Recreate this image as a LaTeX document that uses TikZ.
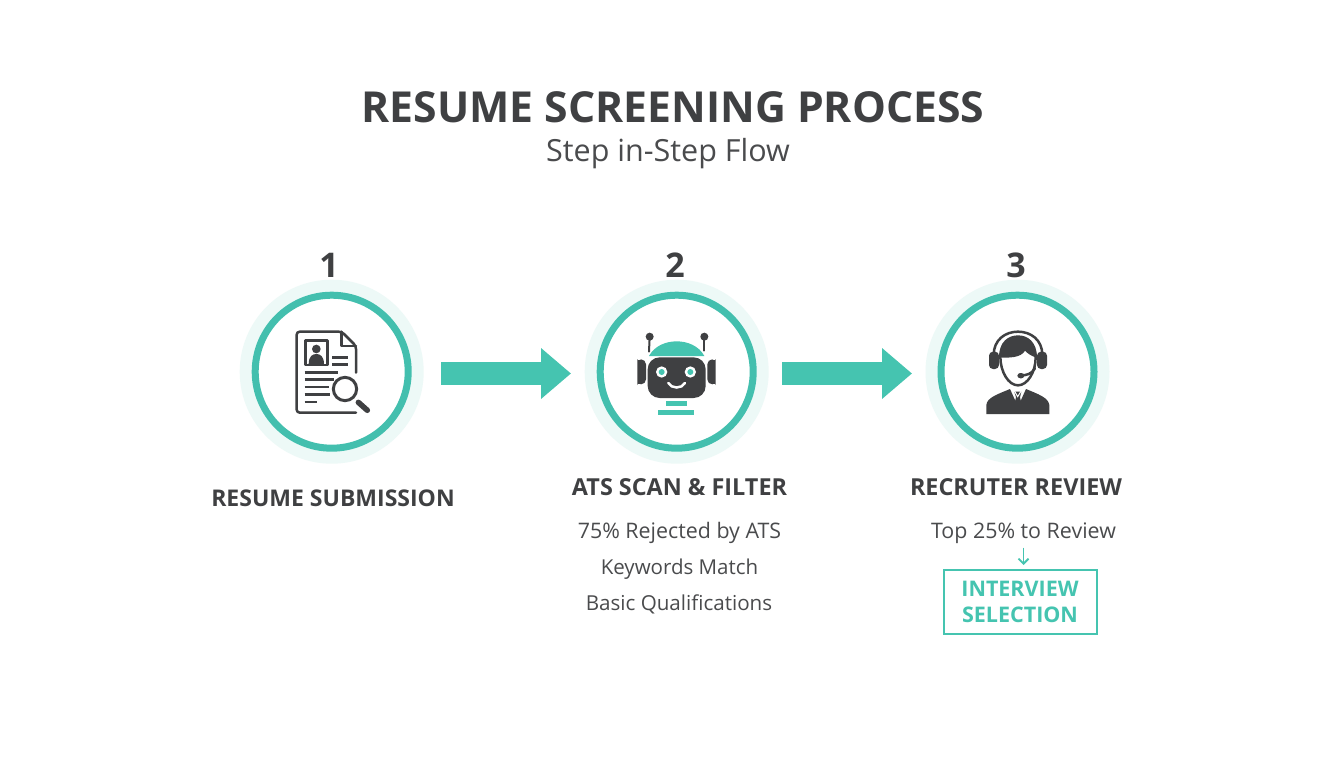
\documentclass[tikz,border=0pt]{standalone}
\usepackage{fontspec}
\setmainfont{Open Sans}
\usetikzlibrary{arrows.meta}
\definecolor{teal1}{HTML}{45C4B0}
\definecolor{ringc}{HTML}{43BFAE}
\definecolor{halo1}{HTML}{EDF9F7}
\definecolor{ink}{HTML}{3F4042}
\definecolor{ink2}{HTML}{4A4B4D}
\tikzset{
  halo/.style={circle,fill=halo1,minimum size=184pt,inner sep=0pt},
  ring/.style={circle,draw=ringc,line width=7pt,fill=white,minimum size=153pt,inner sep=0pt},
  num/.style={font=\fontsize{34}{34}\selectfont\bfseries,text=ink,inner sep=0pt},
  head/.style={font=\fontsize{#1}{24}\selectfont\bfseries,text=ink,inner sep=0pt},
  bodytxt/.style={font=\fontsize{#1}{24}\selectfont,text=ink2,inner sep=0pt},
  bigarrow/.style={draw=teal1,line width=23pt,-{Triangle[length=30pt,width=49pt]}},
  iconline/.style={draw=ink,line width=2.5pt,line cap=round,line join=round},
  zoomed/.style={shift={#1},x=0.33333pt,y=-0.33333pt}
}
\begin{document}
\begin{tikzpicture}[x=1pt,y=-1pt]
\useasboundingbox (0,0) rectangle (1344,768);
\fill[white] (0,0) rectangle (1344,768);

\node[font=\fontsize{42.7}{46}\selectfont\bfseries,text=ink,inner sep=0pt] (title) at (673,107) {RESUME SCREENING PROCESS};
\node[font=\fontsize{30.5}{34}\selectfont,text=ink2,inner sep=0pt] (subtitle) at (668,153.5) {Step in-Step Flow};

\node[halo] (h1) at (331.7,371.7) {};
\node[halo] (h2) at (676.7,371.7) {};
\node[halo] (h3) at (1017.5,371.7) {};
\node[ring] (r1) at (h1) {};
\node[ring] (r2) at (h2) {};
\node[ring] (r3) at (h3) {};

\node[num] (n1) at (329,265) {1};
\node[num] (n2) at (675,265) {2};
\node[num] (n3) at (1016,265) {3};

\coordinate (a1) at ([yshift=-1.8pt]h1.center);
\coordinate (a2) at ([yshift=-1.8pt]h2.center);
\coordinate (a3) at ([yshift=-1.8pt]h3.center);
\draw[bigarrow,shorten <=109.3pt,shorten >=105.7pt] (a1) -- (a2);
\draw[bigarrow,shorten <=105.3pt,shorten >=105.5pt] (a2) -- (a3);

% document icon
\begin{scope}[zoomed={(230,240)}]
  \draw[iconline,rounded corners=3pt] (378,398) -- (378,318) -- (335,275) -- (200,275) -- (200,518) -- (378,518);
  \draw[iconline] (335,275) -- (335,318) -- (378,318);
  \draw[iconline] (226,302) rectangle (292,375);
  \fill[ink] (259,327) circle (13);
  \fill[ink] (236,373) .. controls (236,348) and (248,342) .. (259,342) .. controls (270,342) and (282,348) .. (282,373) -- cycle;
  \foreach \xa/\xb/\yy in {307/355/352,307/355/374,224/325/397,224/312/418,224/296/441,224/300/464,224/262/486}
    \draw[iconline,line cap=butt] (\xa,\yy) -- (\xb,\yy);
  \fill[white] (345,447) circle (41);
  \draw[iconline,line width=3pt] (345,447) circle (35);
  \draw[draw=ink,line width=5.5pt,line cap=round] (385,487) -- (412,511);
\end{scope}

% robot icon
\begin{scope}[zoomed={(575,240)}]
  \fill[ink,rounded corners=5pt] (187,372) -- (187,420) .. controls (187,428) and (200,433) .. (213,433) -- (213,358) .. controls (200,358) and (187,364) .. (187,372) -- cycle;
  \fill[ink,rounded corners=5pt] (422,372) -- (422,420) .. controls (422,428) and (410,433) .. (397,433) -- (397,358) .. controls (410,358) and (422,364) .. (422,372) -- cycle;
  \draw[iconline,line width=2pt] (224,290) -- (222,335);
  \draw[iconline,line width=2pt] (388,290) -- (388,332);
  \fill[ink] (224,290) circle (12);
  \fill[ink] (388,290) circle (12);
  \fill[teal1] (222,348) .. controls (238,318) and (272,304) .. (305,304) .. controls (338,304) and (372,318) .. (388,348) -- cycle;
  \fill[ink,rounded corners=12pt] (218,352) rectangle (392,474);
  \fill[white] (260,396) circle (17);
  \fill[white] (346,396) circle (17);
  \fill[teal1] (260,396) circle (9);
  \fill[teal1] (346,396) circle (9);
  \draw[draw=white,line width=2.5pt,line cap=round] (280,429) .. controls (290,447) and (320,447) .. (330,429);
  \fill[teal1] (273,484) rectangle (336,498);
  \fill[teal1] (250,511) rectangle (358,524);
\end{scope}

% recruiter icon
\begin{scope}[zoomed={(915,240)}]
  \draw[iconline,line width=2.5pt] (236,345) .. controls (236,300) and (270,275) .. (309,275) .. controls (348,275) and (382,300) .. (382,345);
  \fill[ink,rounded corners=4pt] (222,335) rectangle (252,387);
  \fill[ink,rounded corners=4pt] (366,335) rectangle (396,387);
  \fill[ink] (252,352) .. controls (252,305) and (280,286) .. (309,286) .. controls (338,286) and (366,305) .. (366,354)
     .. controls (347,347) and (337,340) .. (330,332) .. controls (318,354) and (280,354) .. (252,352) -- cycle;
  \draw[iconline] (256,350) .. controls (256,395) and (280,436) .. (309,436) .. controls (338,436) and (362,395) .. (362,352);
  \draw[iconline] (318,406) .. controls (335,406) and (350,402) .. (360,385);
  \fill[ink,rounded corners=3pt] (307,399) rectangle (328,415);
  \fill[ink] (214,522) -- (214,495) .. controls (216,472) and (250,462) .. (285,447) -- (309,500) -- (333,447) .. controls (368,462) and (400,472) .. (403,495) -- (403,522) -- cycle;
  \fill[ink] (298,455) -- (319,455) -- (315,472) -- (323,505) -- (309,518) -- (295,505) -- (303,472) -- cycle;
  \draw[white,line width=1pt] (298,452) -- (308,470) -- (319,452);
\end{scope}

\node[head=23] (l1) at (333,498) {RESUME SUBMISSION};
\node[head=23.4] (l2) at (679.5,487) {ATS SCAN \& FILTER};
\node[head=23.4] (l3) at (1016,487) {RECRUTER REVIEW};

\node[bodytxt=21.4] (b1) at (679.5,533) {75\% Rejected by ATS};
\node[bodytxt=20.5] (b2) at (679.5,569) {Keywords Match};
\node[bodytxt=20.6] (b3) at (679,604) {Basic Qualifications};
\node[bodytxt=21.4,minimum height=27pt] (b4) at (1023.5,533) {Top 25\% to Review};

\node[draw=teal1,line width=2pt,minimum width=153pt,minimum height=64pt,inner sep=0pt,align=center,
  text=teal1,font=\fontsize{21.5}{26}\selectfont\bfseries] (sel) at (1020,601.5) {INTERVIEW\\SELECTION};
\draw[draw=teal1,line width=1.8pt,-{Straight Barb[length=5pt,width=10pt]},shorten >=3.5pt,shorten <=1pt] (b4.south) -- (b4.south |- sel.north);
\end{tikzpicture}
\end{document}
